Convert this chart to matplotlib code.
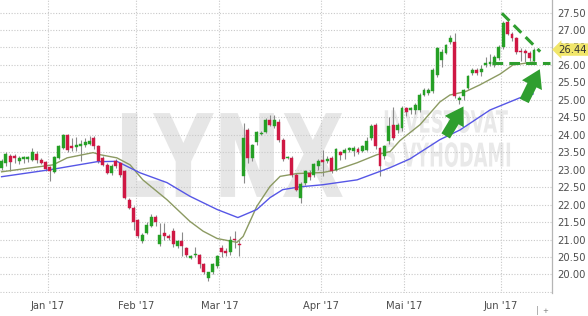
import numpy as np
import matplotlib
matplotlib.use("Agg")
import matplotlib.pyplot as plt
from matplotlib.textpath import TextPath
from matplotlib.patches import PathPatch
from matplotlib.font_manager import FontProperties
from matplotlib.transforms import Affine2D, blended_transform_factory

# trading days per month (Dec '16 tail ... Jun '17 head)
month_names = ["Dec '16", "Jan '17", "Feb '17", "Mar '17", "Apr '17", "Mai '17", "Jun '17"]
days_per_month = [11, 20, 19, 23, 19, 22, 8]

opens = [
    23.05, 23.20, 23.40, 23.40, 23.26, 23.30, 23.30, 23.29, 23.46, 23.29, 23.23,
    23.09, 22.94, 23.34, 23.63, 24.00, 23.69, 23.64, 23.67, 23.72, 23.73, 23.92, 23.67, 23.35, 23.14, 22.90, 23.24, 23.20, 22.95, 22.14, 21.91,
    21.57, 20.95, 21.19, 21.38, 21.64, 20.86, 21.19, 21.11, 21.24, 20.81, 20.95, 20.77, 20.48, 20.55, 20.57, 20.31, 19.91, 20.06, 20.24,
    20.77, 20.66, 20.63, 21.02, 20.88, 22.81, 24.14, 23.33, 23.78, 24.03, 24.09, 24.43, 24.24, 24.38, 23.86, 23.33, 23.33, 22.86, 22.20, 22.62, 22.92, 22.85, 23.10,
    23.27, 23.25, 23.33, 23.00, 23.52, 23.48, 23.57, 23.55, 23.60, 23.55, 23.57, 23.90, 24.29, 23.62, 23.38, 23.81, 24.29, 24.14, 24.20,
    24.76, 24.70, 24.71, 24.71, 25.14, 25.20, 25.24, 25.71, 26.14, 26.33, 26.65, 26.67, 25.00, 25.10, 25.33, 25.76, 25.86, 25.80, 26.00, 26.04, 26.00, 26.19,
    26.52, 27.24, 26.90, 26.76, 26.41, 26.41, 26.35, 26.10,
]
highs = [
    23.30, 23.50, 23.45, 23.45, 23.38, 23.40, 23.40, 23.63, 23.55, 23.35, 23.25,
    23.12, 23.40, 23.70, 24.02, 24.02, 23.91, 23.95, 23.85, 23.90, 23.97, 23.97, 23.70, 23.40, 23.20, 23.15, 23.30, 23.22, 22.98, 22.20, 21.95,
    21.60, 21.20, 21.50, 21.72, 21.70, 21.48, 21.48, 21.15, 21.34, 21.00, 21.21, 20.80, 20.56, 20.79, 20.60, 20.33, 20.08, 20.32, 20.55,
    20.85, 20.76, 21.10, 21.24, 21.00, 24.34, 24.20, 23.75, 24.10, 24.10, 24.47, 24.57, 24.57, 24.45, 23.90, 23.40, 23.40, 22.90, 22.65, 23.00, 22.98, 23.20, 23.30,
    23.57, 23.40, 23.38, 23.62, 23.55, 23.62, 23.66, 23.68, 23.64, 23.72, 23.95, 24.30, 24.33, 23.66, 23.70, 24.52, 24.80, 24.35, 24.82,
    24.80, 24.80, 24.90, 25.20, 25.33, 25.33, 25.90, 26.52, 26.45, 26.60, 26.86, 26.92, 25.12, 25.32, 25.70, 25.90, 25.90, 26.00, 26.24, 26.30, 26.28, 26.56,
    27.25, 27.32, 26.95, 26.80, 26.48, 26.46, 26.40, 26.48,
]
lows = [
    23.00, 23.10, 22.97, 23.20, 23.15, 23.20, 23.22, 23.25, 23.20, 23.15, 22.95,
    22.69, 22.90, 23.30, 23.60, 23.50, 23.55, 23.55, 23.24, 23.65, 23.70, 23.60, 23.20, 23.10, 22.88, 22.85, 23.05, 22.80, 22.15, 21.88, 21.26,
    21.05, 20.90, 21.15, 21.35, 21.40, 20.82, 21.00, 21.00, 20.80, 20.75, 20.52, 20.50, 20.45, 20.50, 20.20, 20.02, 19.81, 20.00, 20.20,
    20.50, 20.52, 20.55, 20.76, 20.52, 22.63, 23.19, 23.25, 23.70, 23.98, 24.05, 24.25, 24.20, 23.80, 23.25, 23.30, 22.80, 22.40, 22.05, 22.55, 22.70, 22.80, 23.00,
    22.81, 23.20, 22.90, 22.95, 23.28, 23.30, 23.50, 23.40, 23.45, 23.50, 23.55, 23.85, 23.60, 22.81, 23.30, 23.75, 23.85, 24.05, 24.10,
    24.55, 24.60, 24.60, 24.65, 25.10, 25.15, 25.20, 25.65, 25.95, 26.30, 26.60, 25.05, 24.88, 25.00, 25.30, 25.72, 25.72, 25.67, 25.95, 25.98, 25.95, 26.15,
    26.45, 26.85, 26.70, 26.30, 26.10, 26.08, 26.12, 26.05,
]
closes = [
    23.25, 23.46, 23.23, 23.33, 23.33, 23.36, 23.36, 23.52, 23.29, 23.20, 23.03,
    22.95, 23.37, 23.67, 24.00, 23.57, 23.62, 23.71, 23.74, 23.80, 23.83, 23.67, 23.26, 23.14, 22.91, 23.10, 23.11, 22.86, 22.19, 21.91, 21.49,
    21.10, 21.14, 21.43, 21.66, 21.49, 21.14, 21.10, 21.05, 20.86, 20.95, 20.81, 20.57, 20.52, 20.59, 20.29, 20.07, 20.06, 20.29, 20.52,
    20.63, 20.62, 21.00, 20.98, 20.85, 23.90, 23.33, 23.71, 24.07, 24.06, 24.43, 24.29, 24.43, 23.86, 23.30, 23.37, 22.86, 22.43, 22.60, 22.97, 22.80, 23.17, 23.24,
    23.22, 23.30, 22.95, 23.59, 23.43, 23.57, 23.62, 23.63, 23.50, 23.68, 23.81, 24.24, 23.67, 23.10, 23.67, 24.24, 23.90, 24.29, 24.78,
    24.66, 24.77, 24.86, 25.14, 25.29, 25.29, 25.86, 26.48, 26.38, 26.57, 26.76, 25.12, 25.05, 25.29, 25.67, 25.86, 25.77, 25.88, 26.06, 26.08, 26.24, 26.52,
    27.19, 26.90, 26.76, 26.38, 26.37, 26.35, 26.19, 26.44,
]

# moving averages (bar index, price)
ma_short_x = [0, 11.7, 14.9, 20.8, 22.4, 26.2, 29.2, 32.1, 37.6, 42.8, 45.8, 49.0, 53.5, 54.9, 58.0, 61.0,
              63.3, 67.1, 73.0, 76.2, 80.8, 85.3, 88.3, 90.5, 95.1, 99.6, 101.9, 105.5, 108.7, 113.3, 116.2, 120.8]
ma_short_y = [22.94, 23.14, 23.34, 23.49, 23.43, 23.34, 23.14, 22.71, 22.14, 21.52, 21.24, 21.03, 20.92, 21.09, 21.95, 22.52,
              22.81, 22.89, 22.92, 23.00, 23.20, 23.43, 23.52, 23.83, 24.29, 24.94, 25.14, 25.24, 25.43, 25.74, 26.00, 26.08]
ma_long_x = [0, 11.0, 21.7, 26.2, 31.5, 37.6, 42.8, 49.0, 53.7, 58.0, 61.0, 63.9, 67.8, 73.0, 80.8, 88.3,
             92.8, 99.6, 104.2, 111.0, 117.8, 120.8]
ma_long_y = [22.80, 23.00, 23.23, 23.24, 22.91, 22.63, 22.24, 21.86, 21.63, 21.86, 22.20, 22.43, 22.51, 22.57, 22.71, 23.06,
             23.31, 23.86, 24.14, 24.71, 25.06, 25.17]

last_price = 26.44
y_ticks = np.arange(20.0, 27.51, 0.5)

GREEN = "#25a025"
RED = "#cf1844"
WICK = "#8a8a8a"
TXT = "#4d4d4d"
GRID = "#c9c9c9"
ARROW = "#2f9e2f"

fig = plt.figure(figsize=(5.88, 3.16), dpi=100)
ax = fig.add_axes([0, 23 / 316, 552 / 588, 293 / 316])

x = np.arange(len(closes))
o = np.array(opens)
c = np.array(closes)
up = c >= o
colors = np.where(up, GREEN, RED)
bottom = np.minimum(o, c)
height = np.maximum(np.abs(c - o), 0.03)

ax.vlines(x, lows, highs, color=WICK, lw=0.8, zorder=2)
ax.bar(x, height, bottom=bottom, width=0.68, color=colors, edgecolor=colors, lw=0.3, zorder=3)

ax.plot(ma_short_x, ma_short_y, color="#8c9a62", lw=1.0, zorder=2.5)
ax.plot(ma_long_x, ma_long_y, color="#5656e6", lw=1.0, zorder=2.5)


def watermark(text, box, color):
    tp = TextPath((0, 0), text, size=1, prop=FontProperties(family="DejaVu Sans", weight="bold"))
    ext = tp.get_extents()
    x0, y0, x1, y1 = box
    tr = (Affine2D().translate(-ext.x0, -ext.y0)
          .scale((x1 - x0) / ext.width, (y1 - y0) / ext.height)
          .translate(x0, y0) + ax.transAxes)
    ax.add_patch(PathPatch(tp, transform=tr, fc=color, ec="none", zorder=0.1))


watermark("LYNX", (0.221, 0.328, 0.621, 0.614), "#e6e6e6")
watermark("INVESTOVAT", (0.697, 0.546, 0.920, 0.625), "#e9e9e9")
watermark("S VÝHODAMI", (0.697, 0.430, 0.924, 0.535), "#e9e9e9")

# month ticks at the boundary before each month's first bar
starts = np.cumsum(days_per_month)[:-1] - 0.5
ax.set_xticks(starts)
ax.set_xticklabels(month_names[1:])
ax.set_yticks(np.append(19.5, y_ticks))
ax.set_yticklabels([""] + ["%.2f" % v for v in y_ticks])
ax.yaxis.tick_right()
ax.tick_params(axis="both", length=0, labelsize=7.2, colors=TXT)
ax.tick_params(axis="y", pad=4)
ax.tick_params(axis="x", pad=6)
ax.set_axisbelow(True)
ax.grid(True, color=GRID, lw=0.8, ls=(0, (1, 1.5)))

ax.set_xlim(-0.36, 125.09)
ax.set_ylim(19.47, 27.86)
for s in ["top", "left", "bottom"]:
    ax.spines[s].set_visible(False)
ax.spines["right"].set_color("#b5b5b5")
ax.spines["right"].set_linewidth(0.9)

# annotations: triangle and arrows
ax.plot([113.7, 122.4], [27.48, 26.38], color=ARROW, lw=2.2, ls=(0, (3.5, 2)), zorder=4)
ax.plot([111.5, 124.6], [26.07, 26.07], color=ARROW, lw=2.2, ls=(0, (3.5, 2)), zorder=4, clip_on=False)
arrow_style = "simple,head_length=0.8,head_width=1.0,tail_width=0.45"
ax.annotate("", xy=(105.3, 24.88), xytext=(100.6, 23.9),
            arrowprops=dict(arrowstyle=arrow_style, color=ARROW, lw=0, mutation_scale=16), zorder=5)
ax.annotate("", xy=(122.6, 25.95), xytext=(118.5, 24.9),
            arrowprops=dict(arrowstyle=arrow_style, color=ARROW, lw=0, mutation_scale=16), zorder=5)

# last price tag
tr = blended_transform_factory(ax.transAxes, ax.transData)
ax.text(1.012, last_price, "%.2f" % last_price, transform=tr, fontsize=7.2, color="#333333",
        va="center", ha="left",
        bbox=dict(boxstyle="larrow,pad=0.12", fc="#f1e66a", ec="none"), zorder=6)

# small marker at the end of the time axis
ax.text(121.8, -0.045, "|", transform=blended_transform_factory(ax.transData, ax.transAxes),
        fontsize=6, color="#999999", ha="center", va="top")
ax.text(122.9, -0.05, "+", transform=blended_transform_factory(ax.transData, ax.transAxes),
        fontsize=5, color="#777777", ha="left", va="top")

fig.savefig("out.png", dpi=100)
